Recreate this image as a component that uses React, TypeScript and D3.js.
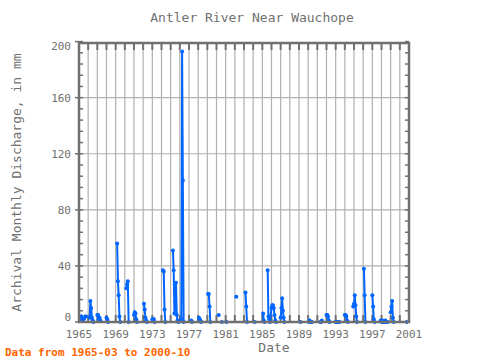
import React from "react";
import * as d3 from "d3";

const title = "Antler River Near Wauchope";
const yLabel = "Archival Monthly Discharge, in mm";
const xLabel = "Date";
const note = "Data from 1965-03 to 2000-10";

const yTicks = [0, 40, 80, 120, 160, 200];
const xTickYears = [1965, 1969, 1973, 1977, 1981, 1985, 1989, 1993, 1997, 2001];

// monthly values; null breaks the line
const months: string[] = [
  "1965-03","1965-04","1965-05","1965-06","1965-07","1965-08","1965-09","1965-10","gap",
  "1966-03","1966-04","1966-05","1966-06","1966-07","1966-08","gap",
  "1967-01","1967-02","1967-03","1967-04","1967-05","gap",
  "1968-01","1968-02","1968-03","gap",
  "1969-03","1969-04","1969-05","1969-06","1969-07","gap",
  "1970-03","1970-04","1970-05","1970-06","gap",
  "1971-01","1971-02","1971-03","1971-04","1971-05","gap",
  "1972-02","1972-03","1972-04","1972-05","1972-06","gap",
  "1973-01","1973-02","1973-03","1973-04","gap",
  "1974-03","1974-04","1974-05","1974-06","gap",
  "1975-04","1975-05","1975-06","1975-07","1975-08","1975-09","1975-10","1975-11","gap",
  "1976-03","1976-04","1976-05","1976-06","gap",
  "1977-04","1977-05","gap",
  "1978-02","1978-03","1978-04","1978-05","gap",
  "1979-02","1979-03","1979-04","1979-05","gap",
  "1980-04","gap",
  "1980-08","gap",
  "1981-02","gap",
  "1982-03","gap",
  "1983-03","1983-04","1983-05","gap",
  "1984-03","gap",
  "1985-02","1985-03","1985-04","gap",
  "1985-08","1985-09","1985-10","1985-11",
  "1986-01","1986-02","1986-03","1986-04","1986-05","1986-06","1986-07","gap",
  "1987-01","1987-02","1987-03","1987-04","1987-05","1987-06","gap",
  "1989-03","gap",
  "1990-02","1990-03","1990-04","1990-05","1990-06","gap",
  "1991-05","1991-06","1991-07","gap",
  "1992-01","1992-02","1992-03","1992-04","1992-05","gap",
  "1993-01","1993-02","1993-03","1993-04","1993-05","1993-06","gap",
  "1994-01","1994-02","1994-03","1994-04","1994-05","gap",
  "1994-12","1995-01","1995-02","1995-03","1995-04","1995-05","gap",
  "1996-02","1996-03","1996-04","gap",
  "1997-01","1997-02","1997-03","1997-04","gap",
  "1997-12","1998-01","1998-02","1998-03","1998-04","1998-05","1998-06","1998-07","1998-08","1998-09","gap",
  "1999-01","1999-02","1999-03","1999-04","1999-05","gap",
  "2000-10",
];
const discharge: (number | null)[] = [
  3,4,1,3,2,3,4,4,null,
  3,15,10,3,1,0,null,
  5,5,2,3,1,null,
  3,2,0,null,
  56,29,19,4,0,null,
  24,27,29,0,null,
  5,7,6,2,0,null,
  13,9,3,1,0,null,
  2,1,2,0,null,
  37,36,9,0,null,
  51,37,6,15,28,5,1,0,null,
  2,193,101,0,null,
  1,0,null,
  3,2,1,0,null,
  20,20,11,0,null,
  5,null,
  0,null,
  0,null,
  18,null,
  21,11,0,null,
  0,null,
  6,1,0,null,
  37,4,2,0,
  10,12,12,10,5,1,0,null,
  3,10,17,8,3,0,null,
  0,null,
  0,1,0,0,0,null,
  0,0,1,null,
  5,5,4,1,0,null,
  0,0,0,0,0,0,null,
  5,5,4,1,0,null,
  11,13,19,12,4,0,null,
  38,19,0,null,
  19,11,2,0,null,
  1,0,1,0,0,0,1,0,0,0,null,
  7,11,15,3,0,null,
  0,
];

const W = 480, H = 360;
const L = 79, R = 409, T = 43, B = 322;
const GRAY = "#707070";
const FONT = "'DejaVu Sans Mono', monospace";

export default function App() {
  const parse = d3.timeParse("%Y-%m");
  const x = d3.scaleTime().domain([new Date(1965, 0, 1), new Date(2001, 0, 1)]).range([L, R]);
  const y = d3.scaleLinear().domain([0, 199]).range([B, T]);
  const pts = months.map((m, i) => ({ d: m === "gap" ? null : parse(m), v: discharge[i] }));
  const line = d3.line<{ d: Date | null; v: number | null }>()
    .defined((p) => p.d !== null && p.v !== null)
    .x((p) => x(p.d as Date))
    .y((p) => y(p.v as number));
  const years = d3.range(1965, 2002);
  const minor = d3.range(0, 201, 8);
  const labelY = (t: number) => (t === 0 ? y(t) - 1 : t === 200 ? y(t) + 8 : y(t) + 4);
  return (
    <svg width={W} height={H} style={{ position: "absolute", left: 0, top: 0, background: "#fff" }}>
      <text x={252} y={22} textAnchor="middle" fontFamily={FONT} fontSize={13} fill={GRAY}>{title}</text>
      {/* grid */}
      {years.slice(1, -1).map((yr) => (
        <line key={"g" + yr} x1={x(new Date(yr, 0, 1))} x2={x(new Date(yr, 0, 1))} y1={T} y2={B} stroke="#b0b0b0" strokeWidth={1.2} />
      ))}
      {yTicks.slice(1, -1).map((t) => (
        <line key={"h" + t} x1={L} x2={R} y1={y(t)} y2={y(t)} stroke="#b0b0b0" strokeWidth={1.2} />
      ))}
      {/* year ticks */}
      {years.map((yr) => (
        <g key={"t" + yr}>
          <line x1={x(new Date(yr, 0, 1))} x2={x(new Date(yr, 0, 1))} y1={T} y2={T + 7} stroke={GRAY} strokeWidth={2} />
          <line x1={x(new Date(yr, 0, 1))} x2={x(new Date(yr, 0, 1))} y1={B} y2={B - 7} stroke={GRAY} strokeWidth={2} />
        </g>
      ))}
      {minor.map((t) => (
        <g key={"m" + t}>
          <line x1={L} x2={L + 4} y1={y(t)} y2={y(t)} stroke={GRAY} strokeWidth={1.5} />
          <line x1={R} x2={R - 4} y1={y(t)} y2={y(t)} stroke={GRAY} strokeWidth={1.5} />
        </g>
      ))}
      {yTicks.map((t) => (
        <g key={"y" + t}>
          <line x1={L - 4} x2={L} y1={y(t)} y2={y(t)} stroke={GRAY} strokeWidth={1.5} />
          <text x={71} y={labelY(t)} textAnchor="end" fontFamily={FONT} fontSize={11} fill={GRAY}>{t}</text>
        </g>
      ))}
      {xTickYears.map((yr) => (
        <text key={"x" + yr} x={x(new Date(yr, 0, 1))} y={338} textAnchor="middle" fontFamily={FONT} fontSize={11} fill={GRAY}>{yr}</text>
      ))}
      {/* data */}
      <path d={line(pts) || ""} fill="none" stroke="#0066ff" strokeWidth={2} />
      {pts.filter((p) => p.d !== null && p.v !== null).map((p, i) => (
        <circle key={"p" + i} cx={x(p.d as Date)} cy={y(p.v as number)} r={2} fill="#0066ff" />
      ))}
      <rect x={L} y={T} width={R - L} height={B - T} fill="none" stroke={GRAY} strokeWidth={2.5} />
      <text transform={`translate(17,${(T + B) / 2}) rotate(-90)`} textAnchor="middle" dominantBaseline="middle" fontFamily={FONT} fontSize={13} fill={GRAY}>{yLabel}</text>
      <text x={274} y={352} textAnchor="middle" fontFamily={FONT} fontSize={13} fill={GRAY}>{xLabel}</text>
      <text x={5} y={356} fontFamily={FONT} fontSize={11} fontWeight="bold" fill="#ff6600">{note}</text>
    </svg>
  );
}
